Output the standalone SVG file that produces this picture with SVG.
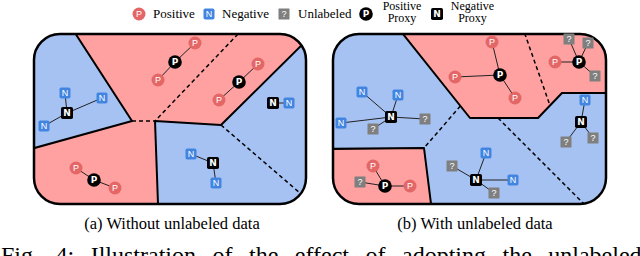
<svg xmlns="http://www.w3.org/2000/svg" width="640" height="256" viewBox="0 0 640 256">
<style>
.bg{fill:#fff}
.pink{fill:#ffa1a1}
.blue{fill:#a6c2f3}
.solid{stroke:#000;stroke-width:2;fill:none;stroke-linejoin:round}
.dash{stroke:#000;stroke-width:1.5;fill:none;stroke-dasharray:4 3}
.frame{fill:none;stroke:#000;stroke-width:2.5}
.con line{stroke:#222;stroke-width:1}
.pp{fill:#e36767}
.pb{fill:#000}
.nb{fill:#4285e0}
.nk{fill:#000}
.uq{fill:#7f7f7f}
.lab{font-family:"Liberation Sans","DejaVu Sans",sans-serif;font-size:9px;fill:#fff;text-anchor:middle}
.blab{font-family:"DejaVu Sans","Liberation Sans",sans-serif;font-size:9px;font-weight:bold;fill:#fff;text-anchor:middle}
.leg{font-family:"Liberation Serif","Times New Roman",serif;font-size:13px;fill:#000}
.leg2{font-family:"Liberation Serif","Times New Roman",serif;font-size:12px;fill:#000;text-anchor:middle}
.cap{font-family:"Liberation Serif","Times New Roman",serif;font-size:16.5px;fill:#000;text-anchor:middle}
.fig{font-family:"Liberation Serif","Times New Roman",serif;font-size:24px;fill:#000;word-spacing:10.5px}
</style>
<defs>
<clipPath id="clipA"><rect x="34" y="34" width="272" height="170" rx="26"/></clipPath>
<clipPath id="clipB"><rect x="333" y="34" width="273" height="170" rx="26"/></clipPath>
<g id="sP"><circle r="6.5" class="pp"/><text y="3.2" class="lab">P</text></g>
<g id="sPx"><circle r="6.8" class="pb"/><text y="3.3" class="blab">P</text></g>
<g id="sN"><rect x="-5.5" y="-5.5" width="11" height="11" rx="1.8" class="nb"/><text y="3.2" class="lab">N</text></g>
<g id="sNx"><rect x="-6" y="-6" width="12" height="12" rx="1.8" class="nk"/><text y="3.3" class="blab">N</text></g>
<g id="sU"><rect x="-5.5" y="-5.5" width="11" height="11" rx="0.5" class="uq"/><text y="3.2" class="lab">?</text></g>
</defs>
<rect width="640" height="256" class="bg"/>

<!-- Legend -->
<g id="legend">
<use href="#sP" x="139" y="14"/><text x="153" y="18" class="leg">Positive</text>
<use href="#sN" x="209" y="14"/><text x="222" y="18" class="leg">Negative</text>
<use href="#sU" x="284" y="14"/><text x="298" y="18" class="leg">Unlabeled</text>
<use href="#sPx" x="366" y="14"/><text x="402" y="9.5" class="leg2">Positive</text><text x="402" y="21.5" class="leg2">Proxy</text>
<use href="#sNx" x="437" y="14"/><text x="472.5" y="9.5" class="leg2">Negative</text><text x="472.5" y="21.5" class="leg2">Proxy</text>
</g>

<!-- Panel A regions -->
<g id="panelA">
<g clip-path="url(#clipA)">
<polygon class="blue" points="20,20 320,20 320,215 20,215"/>
<polygon class="pink" points="66.6,20 327,20 221,125 155,121 132,121"/>
<polygon class="pink" points="20,152 132,121 155,121 158.4,215 20,215"/>
<polyline class="solid" points="66.6,20 132,121 20,152"/>
<polyline class="solid" points="327,20 221,125 155,121 158.4,215"/>
<line class="dash" x1="132" y1="121" x2="155" y2="121"/>
<line class="dash" x1="238" y1="34" x2="155" y2="121"/>
<line class="dash" x1="221" y1="125" x2="322" y2="212"/>
</g>
<rect class="frame" x="34" y="34" width="272" height="170" rx="26"/>
</g>

<!-- Panel B regions -->
<g id="panelB">
<g clip-path="url(#clipB)">
<polygon class="blue" points="320,20 620,20 620,215 320,215"/>
<polygon class="pink" points="391.8,20 620,20 620,93 562,93 538,118 470,118"/>
<polygon class="pink" points="320,149 424,148 432.4,215 320,215"/>
<polyline class="solid" points="391.8,20 470,118 538,118 562,93 620,93"/>
<polyline class="solid" points="320,149 424,148 432.4,215"/>
<line class="dash" x1="520" y1="20" x2="550" y2="105.5"/>
<line class="dash" x1="460.4" y1="106" x2="424" y2="148"/>
<line class="dash" x1="498" y1="118" x2="602" y2="222"/>
</g>
<rect class="frame" x="333" y="34" width="273" height="170" rx="26"/>
</g>

<!-- Connectors -->
<g id="connectors" class="con">
<line x1="175" y1="62" x2="158" y2="80"/><line x1="175" y1="62" x2="195" y2="43"/>
<line x1="239" y1="82" x2="258" y2="64"/><line x1="239" y1="82" x2="219" y2="100"/>
<line x1="94" y1="180" x2="76" y2="168"/><line x1="94" y1="180" x2="115" y2="188"/>
<line x1="67" y1="113" x2="65" y2="93"/><line x1="67" y1="113" x2="102" y2="98"/><line x1="67" y1="113" x2="44" y2="126"/>
<line x1="273" y1="103" x2="289" y2="103"/>
<line x1="213" y1="163" x2="191" y2="154"/><line x1="213" y1="163" x2="216" y2="183"/>
<line x1="500" y1="75" x2="455" y2="77"/><line x1="500" y1="75" x2="492" y2="42"/><line x1="500" y1="75" x2="515" y2="98"/>
<line x1="579" y1="62" x2="555" y2="62"/><line x1="579" y1="62" x2="569" y2="39"/><line x1="579" y1="62" x2="588" y2="43"/><line x1="579" y1="62" x2="595" y2="76"/>
<line x1="391" y1="117" x2="362" y2="92"/><line x1="391" y1="117" x2="398" y2="95"/><line x1="391" y1="117" x2="341" y2="123"/><line x1="391" y1="117" x2="425" y2="119"/><line x1="391" y1="117" x2="373" y2="129"/>
<line x1="476" y1="180" x2="452" y2="166"/><line x1="476" y1="180" x2="486" y2="153"/><line x1="476" y1="180" x2="513" y2="180"/><line x1="476" y1="180" x2="494" y2="193"/>
<line x1="581" y1="122" x2="585" y2="100"/><line x1="581" y1="122" x2="566" y2="142"/><line x1="581" y1="122" x2="593" y2="138"/>
<line x1="385" y1="186" x2="373" y2="166"/><line x1="385" y1="186" x2="410" y2="186"/><line x1="385" y1="186" x2="360" y2="182"/>
</g>

<!-- Nodes panel A -->
<g id="a-p1"><use href="#sP" x="158" y="80"/></g>
<g id="a-p2"><use href="#sP" x="195" y="43"/></g>
<g id="a-px1"><use href="#sPx" x="175" y="62"/></g>
<g id="a-p3"><use href="#sP" x="258" y="64"/></g>
<g id="a-p4"><use href="#sP" x="219" y="100"/></g>
<g id="a-px2"><use href="#sPx" x="239" y="82"/></g>
<g id="a-p5"><use href="#sP" x="76" y="168"/></g>
<g id="a-p6"><use href="#sP" x="115" y="188"/></g>
<g id="a-px3"><use href="#sPx" x="94" y="180"/></g>
<g id="a-n1"><use href="#sN" x="65" y="93"/></g>
<g id="a-n2"><use href="#sN" x="102" y="98"/></g>
<g id="a-n3"><use href="#sN" x="44" y="126"/></g>
<g id="a-nx1"><use href="#sNx" x="67" y="113"/></g>
<g id="a-n4"><use href="#sN" x="289" y="103"/></g>
<g id="a-nx2"><use href="#sNx" x="273" y="103"/></g>
<g id="a-n5"><use href="#sN" x="191" y="154"/></g>
<g id="a-n6"><use href="#sN" x="216" y="183"/></g>
<g id="a-nx3"><use href="#sNx" x="213" y="163"/></g>

<!-- Nodes panel B -->
<g id="b-p1"><use href="#sP" x="455" y="77"/></g>
<g id="b-p2"><use href="#sP" x="492" y="42"/></g>
<g id="b-p3"><use href="#sP" x="515" y="98"/></g>
<g id="b-px1"><use href="#sPx" x="500" y="75"/></g>
<g id="b-p4"><use href="#sP" x="555" y="62"/></g>
<g id="b-u1"><use href="#sU" x="569" y="39"/></g>
<g id="b-u2"><use href="#sU" x="588" y="43"/></g>
<g id="b-u3"><use href="#sU" x="595" y="76"/></g>
<g id="b-px2"><use href="#sPx" x="579" y="62"/></g>
<g id="b-n1"><use href="#sN" x="362" y="92"/></g>
<g id="b-n2"><use href="#sN" x="398" y="95"/></g>
<g id="b-n3"><use href="#sN" x="341" y="123"/></g>
<g id="b-u4"><use href="#sU" x="425" y="119"/></g>
<g id="b-u5"><use href="#sU" x="373" y="129"/></g>
<g id="b-nx1"><use href="#sNx" x="391" y="117"/></g>
<g id="b-u6"><use href="#sU" x="452" y="166"/></g>
<g id="b-n4"><use href="#sN" x="486" y="153"/></g>
<g id="b-n5"><use href="#sN" x="513" y="180"/></g>
<g id="b-u7"><use href="#sU" x="494" y="193"/></g>
<g id="b-nx2"><use href="#sNx" x="476" y="180"/></g>
<g id="b-n6"><use href="#sN" x="585" y="100"/></g>
<g id="b-u8"><use href="#sU" x="566" y="142"/></g>
<g id="b-u9"><use href="#sU" x="593" y="138"/></g>
<g id="b-nx3"><use href="#sNx" x="581" y="122"/></g>
<g id="b-p5"><use href="#sP" x="373" y="166"/></g>
<g id="b-p6"><use href="#sP" x="410" y="186"/></g>
<g id="b-u10"><use href="#sU" x="360" y="182"/></g>
<g id="b-px3"><use href="#sPx" x="385" y="186"/></g>

<!-- Captions -->
<text x="172" y="229" class="cap">(a) Without unlabeled data</text>
<text x="475" y="229" class="cap">(b) With unlabeled data</text>
<text x="1" y="263" class="fig">Fig. 4: Illustration of the effect of adopting the unlabeled</text>
</svg>
